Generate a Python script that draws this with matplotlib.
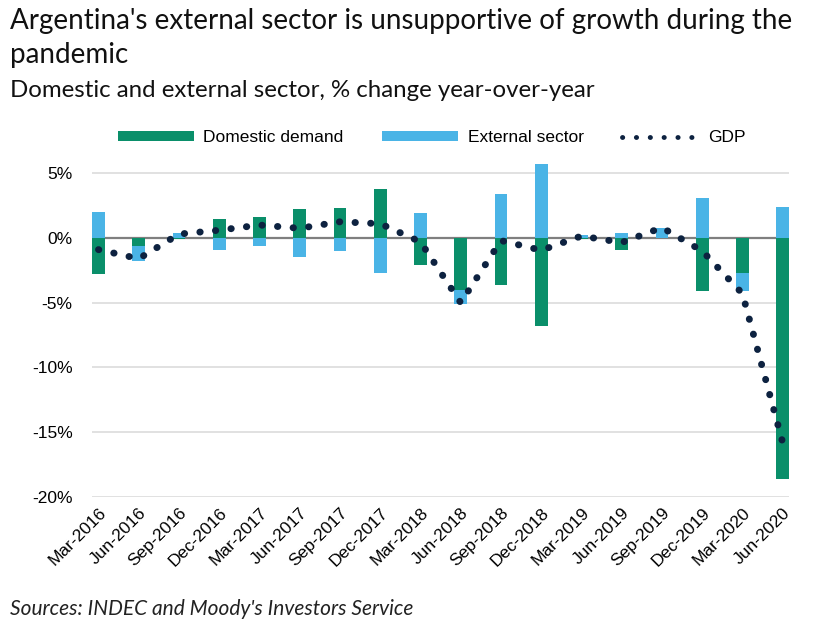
import matplotlib.pyplot as plt
import numpy as np

# quarterly data
quarters = ["Mar-2016", "Jun-2016", "Sep-2016", "Dec-2016", "Mar-2017", "Jun-2017",
            "Sep-2017", "Dec-2017", "Mar-2018", "Jun-2018", "Sep-2018", "Dec-2018",
            "Mar-2019", "Jun-2019", "Sep-2019", "Dec-2019", "Mar-2020", "Jun-2020"]
domestic = [-2.8, -0.6, -0.1, 1.5, 1.6, 2.2, 2.3, 3.8, -2.1, -4.0, -3.6, -6.8,
            -0.1, -0.9, 0.0, -4.1, -2.7, -18.6]
external = [2.0, -1.2, 0.4, -0.9, -0.6, -1.5, -1.0, -2.7, 1.9, -1.1, 3.4, 5.7,
            0.2, 0.4, 0.8, 3.1, -1.4, 2.4]
gdp = [-0.9, -1.6, 0.3, 0.6, 1.0, 0.75, 1.25, 1.1, -0.3, -5.0, -0.2, -0.95,
       0.15, -0.35, 0.8, -1.0, -4.3, -15.8]
yticks = [5, 0, -5, -10, -15, -20]

green = "#0a8f6a"
blue = "#4ab4e6"
navy = "#0d2240"

plt.rcParams['font.family'] = ['Liberation Sans', 'DejaVu Sans']

fig = plt.figure(figsize=(8.22, 6.33), dpi=100)
ax = fig.add_axes([0.112, 0.215, 0.848, 0.542])

x = np.arange(len(quarters))
dom = np.array(domestic)
ext = np.array(external)
# positive values stack upward, negative downward, domestic closest to zero
ext_bottom = np.where(np.sign(ext) == np.sign(dom), dom, 0.0)

w = 0.32
b1 = ax.bar(x, dom, width=w, color=green, label="Domestic demand", zorder=3)
b2 = ax.bar(x, ext, width=w, bottom=ext_bottom, color=blue, label="External sector", zorder=3)
l1, = ax.plot(x, gdp, color=navy, linewidth=5, linestyle=(0, (0.05, 2.2)),
              dash_capstyle='round', label="GDP", zorder=4)

ax.set_xlim(-w / 2, len(quarters) - 1 + w / 2)
ax.set_ylim(-20, 6.5)
ax.set_yticks(yticks)
ax.set_yticklabels([f"{v}%" for v in yticks], fontsize=12.5)
for v in yticks:
    if v == 0:
        ax.axhline(v, color="#7f7f7f", linewidth=1.6, zorder=2)
    else:
        ax.axhline(v, color="#dedede", linewidth=1.3, zorder=1)

ax.set_xticks(x)
ax.set_xticklabels(quarters, rotation=45, ha="right", rotation_mode="anchor", fontsize=12.5)
ax.tick_params(axis="y", length=0, pad=14)
ax.tick_params(axis="x", length=0, pad=6)
for s in ax.spines.values():
    s.set_visible(False)

leg = ax.legend([b1, b2, l1], ["Domestic demand", "External sector", "GDP"],
                loc="lower center", bbox_to_anchor=(0.487, 1.0), ncol=3, frameon=False,
                fontsize=12.5, handlelength=4.4, handleheight=0.45, columnspacing=2.2,
                handletextpad=0.55, borderaxespad=0.1)
# smaller, denser dots in the legend key
leg.get_lines()[0].set_linewidth(3.5)
leg.get_lines()[0].set_linestyle((0, (0.05, 2.8)))

fig.text(0.012, 0.030 + 0.957, "Argentina's external sector is unsupportive of growth during the",
         fontsize=20, family="Lato", color="#111111", va="top")
fig.text(0.012, 0.900, "pandemic",
         fontsize=20, family="Lato", color="#111111", va="baseline")
fig.text(0.012, 0.847, "Domestic and external sector, % change year-over-year",
         fontsize=17.3, family="Lato", color="#111111", va="baseline")
fig.text(0.012, 0.028, "Sources: INDEC and Moody's Investors Service",
         fontsize=15, family="Lato", style="italic", color="#222222", va="baseline")

fig.savefig("out.png", dpi=100)
